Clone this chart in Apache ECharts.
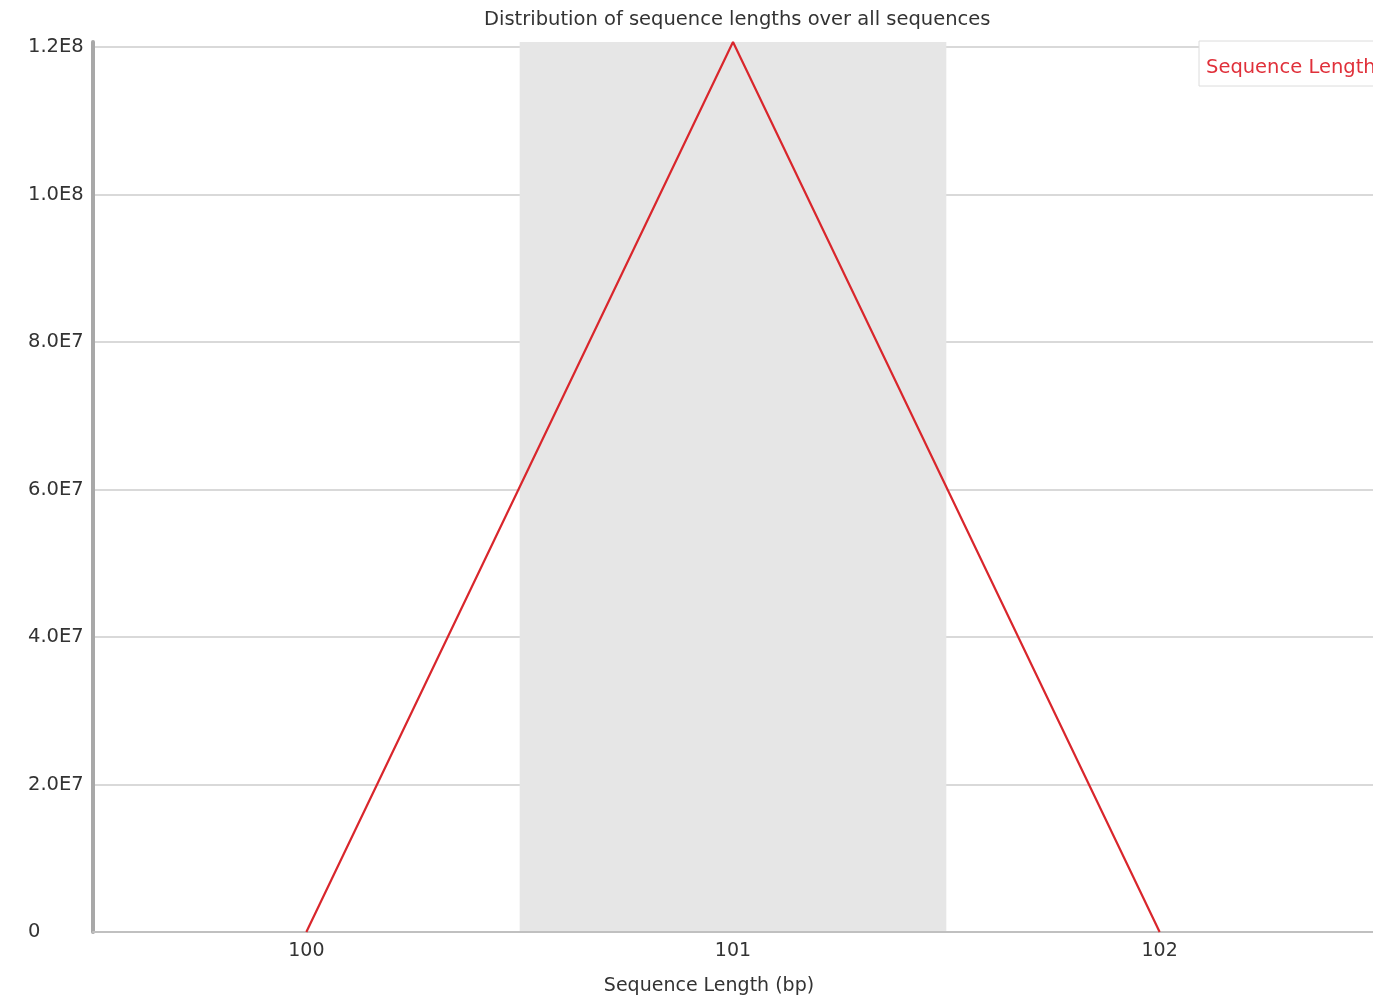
<!DOCTYPE html>
<html>
<head>
<meta charset="utf-8">
<script src="https://cdn.jsdelivr.net/npm/echarts@6/dist/echarts.min.js"></script>
<style>html,body{margin:0;padding:0;background:#fff;overflow:hidden;}#c{width:1373px;height:998px;}</style>
</head>
<body>
<div id="c"></div>
<script>
const categories = ['100', '101', '102'];
const seqLengthCounts = [0, 120680000, 0];
const yTicks = [0, 20000000, 40000000, 60000000, 80000000, 100000000, 120000000];
const yTickLabels = ['0', '2.0E7', '4.0E7', '6.0E7', '8.0E7', '1.0E8', '1.2E8'];

const chart = echarts.init(document.getElementById('c'));
const font = 'DejaVu Sans';
chart.setOption({
  animation: false,
  backgroundColor: '#fff',
  title: {
    text: 'Distribution of sequence lengths over all sequences',
    left: 479, top: 5,
    textStyle: { fontFamily: font, fontSize: 19.5, fontWeight: 'normal', color: '#333' }
  },
  legend: {
    data: ['Sequence Length'],
    left: 1199, top: 41,
    icon: 'none', itemWidth: 0, itemGap: 0,
    padding: [17, 6, 8, 2],
    borderColor: '#dcdcdc', borderWidth: 1, backgroundColor: '#fff',
    textStyle: { fontFamily: font, fontSize: 19.5, color: '#e0303a' }
  },
  grid: { left: 93, right: 0, top: 42, bottom: 66, containLabel: false, outerBoundsMode: 'none' },
  xAxis: {
    type: 'category',
    data: categories,
    boundaryGap: true,
    name: 'Sequence Length (bp)',
    nameLocation: 'middle',
    nameGap: 45,
    nameTextStyle: { fontFamily: font, fontSize: 19, color: '#333', padding: [0, 48, 0, 0] },
    axisLine: { lineStyle: { color: '#c0c0c0', width: 2 } },
    axisTick: { show: false },
    axisLabel: { fontFamily: font, fontSize: 19, color: '#333', margin: 10 },
    splitLine: { show: false },
    splitArea: { show: true, areaStyle: { color: ['rgba(255,255,255,0)', '#e6e6e6'] } }
  },
  yAxis: {
    type: 'value',
    min: 0,
    max: seqLengthCounts[1],
    interval: 20000000,
    axisLine: { show: true, lineStyle: { color: '#a8a8a8', width: 4 } },
    axisTick: { show: false },
    axisLabel: {
      fontFamily: font, fontSize: 19.5, color: '#333', align: 'left', margin: 65,
      showMaxLabel: false,
      formatter: function (v) { const i = yTicks.indexOf(v); return i >= 0 ? yTickLabels[i] : ''; }
    },
    splitLine: { show: true, showMaxLine: false, showMinLine: false, lineStyle: { color: '#cccccc', width: 1.5 } }
  },
  series: [{
    name: 'Sequence Length',
    type: 'line',
    data: seqLengthCounts,
    symbol: 'none',
    color: '#d9262c',
    lineStyle: { color: '#d9262c', width: 2.2 },
    z: 5
  }]
});
</script>
</body>
</html>
